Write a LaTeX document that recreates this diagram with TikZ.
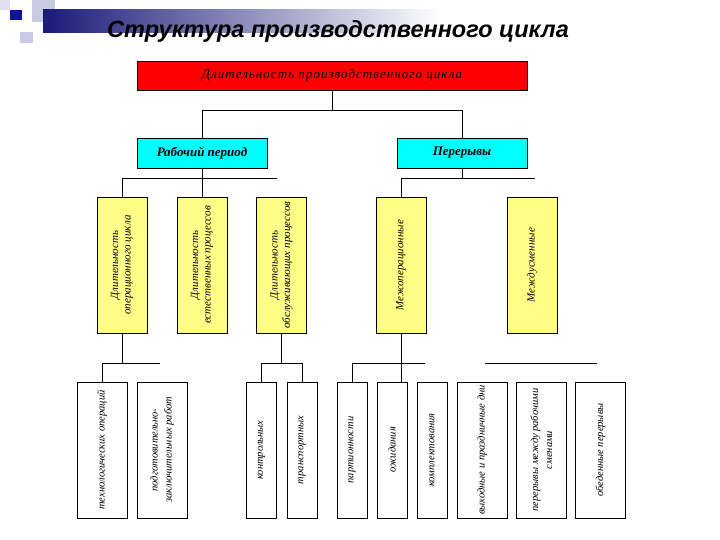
\documentclass[tikz,border=0pt]{standalone}
\usepackage{fontspec}
\setmainfont{Liberation Serif}
\newfontfamily\headfont{Liberation Sans}
\definecolor{cTop}{HTML}{FF0000}
\definecolor{cPer}{HTML}{00FFFF}
\definecolor{cDur}{HTML}{FFFF88}
\definecolor{cNavy}{HTML}{1A1A78}
\definecolor{cLav}{HTML}{C8CAE4}
\tikzset{
  topbox/.style ={rectangle, draw=black, fill=cTop, minimum width=390pt, minimum height=29pt,
                  inner sep=0pt, font=\fontsize{13}{15}\selectfont\itshape\addfontfeatures{LetterSpace=8}},
  perbox/.style ={rectangle, draw=black, fill=cPer, minimum width=130pt, minimum height=30pt,
                  inner sep=0pt, font=\fontsize{13}{15}\selectfont\bfseries\itshape},
  durbox/.style ={rectangle, draw=black, fill=cDur, minimum width=50pt, minimum height=136pt, inner sep=0pt},
  partbox/.style={rectangle, draw=black, fill=white, minimum width=50pt, minimum height=136pt, inner sep=0pt},
  narrow/.style ={minimum width=30pt},
  vtxt/.style   ={rotate=90, align=center, inner sep=0pt, font=\fontsize{11}{12.5}\selectfont\itshape},
  ptxt/.style   ={rotate=90, align=center, inner sep=0pt, font=\fontsize{10.5}{14}\selectfont\itshape},
  ln/.style     ={draw=black, line width=0.8pt},
}

\begin{document}
\begin{tikzpicture}[x=1pt,y=-1pt]
  \useasboundingbox[fill=white] (0,0) rectangle (720,540);
  % header decoration
  \fill[cLav!60] (0,0) rectangle (10,10);
  \fill[cLav] (32,0) rectangle (55,22);
  \fill[cLav] (20,32) rectangle (33,43);
  \shade[left color=cNavy, right color=white] (43,10) rectangle (440,33);
  \fill[cNavy!70!blue] (10,10) rectangle (22,20);
  \node[font=\headfont\bfseries\itshape\fontsize{23.5}{26}\selectfont] (title) at (338,31) {Структура производственного цикла};

  \node[topbox] (dpc) at (332,75.5) {Длительность производственного цикла};
  \node[perbox] (rp) at (202,153) {Рабочий период};
  \node[perbox] (pr) at (462,153) {Перерывы};

  \node[durbox,label={[vtxt]center:Длительность\\операционного цикла}] (oc) at (122,265) {};
  \node[durbox,label={[vtxt]center:Длительность\\естественных процессов}] (ep) at (202,265) {};
  \node[durbox,label={[vtxt]center:Длительность\\обслуживающих процессов}] (op) at (281.5,265) {};
  \node[durbox,label={[vtxt]center:Межоперационные}] (mo) at (401,265) {};
  \node[durbox,label={[vtxt]center:Междусменные}] (ms) at (532,265) {};

  \node[partbox,label={[ptxt]center:технологических операций}] (to) at (102,450) {};
  \node[partbox,label={[ptxt]center:подготовительно-\\заключительных работ}] (pz) at (162,450) {};
  \node[partbox,narrow,label={[ptxt]center:контрольных}] (ko) at (261.5,450) {};
  \node[partbox,narrow,label={[ptxt]center:транспортных}] (tr) at (302,450) {};
  \node[partbox,narrow,label={[ptxt]center:партионности}] (pa) at (352,450) {};
  \node[partbox,narrow,label={[ptxt]center:ожидания}] (oz) at (392,450) {};
  \node[partbox,narrow,label={[ptxt]center:комплектования}] (km) at (432,450) {};
  \node[partbox,label={[ptxt]center:выходные и праздничные дни}] (vp) at (482,450) {};
  \node[partbox,label={[ptxt]center:перерывы между рабочими\\сменами}] (pm) at (541.5,450) {};
  \node[partbox,label={[ptxt]center:обеденные перерывы}] (ob) at (600.5,450) {};

  % connectors
  \coordinate (bus0) at (0,110);
  \draw[ln] (dpc.south) -- (dpc.south |- bus0);
  \draw[ln] (rp.north) |- (bus0 -| pr.north) -- (pr.north);

  \coordinate (rpEnd) at (277,178);
  \draw[ln] (rp.south) -- (ep.north);
  \draw[ln] (oc.north) |- (rpEnd);
  \coordinate (prEnd) at (535,178);
  \draw[ln] (pr.south) -- (pr.south |- prEnd);
  \draw[ln] (mo.north) |- (prEnd);

  \coordinate (ocEnd) at (160,363);
  \draw[ln] (oc.south) -- (oc.south |- ocEnd);
  \draw[ln] (to.north) |- (ocEnd);
  \coordinate (lowbus) at (0,363);
  \draw[ln] (op.south) -- (op.south |- lowbus);
  \draw[ln] (ko.north) |- (lowbus -| tr.north) -- (tr.north);
  \draw[ln] (mo.south) -- (mo.south |- oz.north);
  \coordinate (moEnd) at (425,363);
  \draw[ln] (pa.north) |- (moEnd);
  \coordinate (msA) at (485,363);
  \coordinate (msB) at (597,363);
  \draw[ln] (msA) -- (msB);
\end{tikzpicture}
\end{document}
